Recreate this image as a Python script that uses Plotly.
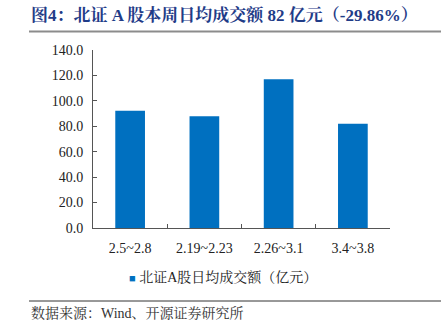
import plotly.graph_objects as go

categories = ["2.5~2.8", "2.19~2.23", "2.26~3.1", "3.4~3.8"]
values = [92.3, 87.9, 116.9, 82.0]
series_name = "北证A股日均成交额（亿元）"
y_ticks = [0, 20, 40, 60, 80, 100, 120, 140]
y_tick_labels = [f"{v:.1f}" for v in y_ticks]

FONT = "Liberation Serif, Times New Roman, Noto Serif CJK SC, Noto Sans CJK SC, serif"
BAR_COLOR = "#0070C0"

fig = go.Figure()
fig.add_trace(go.Bar(
    x=categories, y=values, name=series_name,
    marker=dict(color=BAR_COLOR, line=dict(width=0)),
    width=0.4, showlegend=False,
))

fig.update_layout(
    width=441, height=332,
    margin=dict(l=93, r=51, t=50, b=104),
    paper_bgcolor="white", plot_bgcolor="white",
    font=dict(family=FONT, size=14, color="#222222"),
    showlegend=False,
)
fig.update_xaxes(
    showline=True, linecolor="#555555", linewidth=1,
    ticks="inside", ticklen=4, tickcolor="#555555", tickson="boundaries",
    showgrid=False, tickfont=dict(size=14, family=FONT), ticklabelstandoff=7,
)
fig.update_yaxes(
    range=[0, 140], tickvals=y_ticks, ticktext=y_tick_labels,
    showline=True, linecolor="#555555", linewidth=1,
    ticks="inside", ticklen=4, tickcolor="#555555",
    showgrid=False, zeroline=False, tickfont=dict(size=14, family=FONT),
    ticklabelstandoff=6,
)

def px_x(px):
    return (px - 93) / 297

def px_y(py):
    return (228 - py) / 178

fig.add_annotation(
    text="<b>图4：北证 A 股本周日均成交额 82 亿元（-29.86%）</b>",
    xref="paper", yref="paper", x=px_x(29), y=px_y(16),
    xanchor="left", yanchor="middle", showarrow=False,
    font=dict(size=17, color="#1F3C88", family=FONT),
)
fig.add_shape(type="line", xref="paper", yref="paper",
              x0=px_x(29), x1=px_x(441), y0=px_y(31.5), y1=px_y(31.5),
              line=dict(color="#8C8C8C", width=2))
# legend entry for the single series
fig.add_annotation(
    text=f"<span style='color:{BAR_COLOR};font-size:11px'>■</span> {series_name}",
    xref="paper", yref="paper", x=px_x(127), y=px_y(277),
    xanchor="left", yanchor="middle", showarrow=False,
    font=dict(size=14, color="#222222", family=FONT),
)
fig.add_shape(type="line", xref="paper", yref="paper",
              x0=px_x(29), x1=px_x(441), y0=px_y(301), y1=px_y(301),
              line=dict(color="#333333", width=1))
fig.add_annotation(
    text="数据来源：Wind、开源证券研究所",
    xref="paper", yref="paper", x=px_x(29), y=px_y(313),
    xanchor="left", yanchor="middle", showarrow=False,
    font=dict(size=14, color="#333333", family=FONT),
)

fig.write_html("out.html")
